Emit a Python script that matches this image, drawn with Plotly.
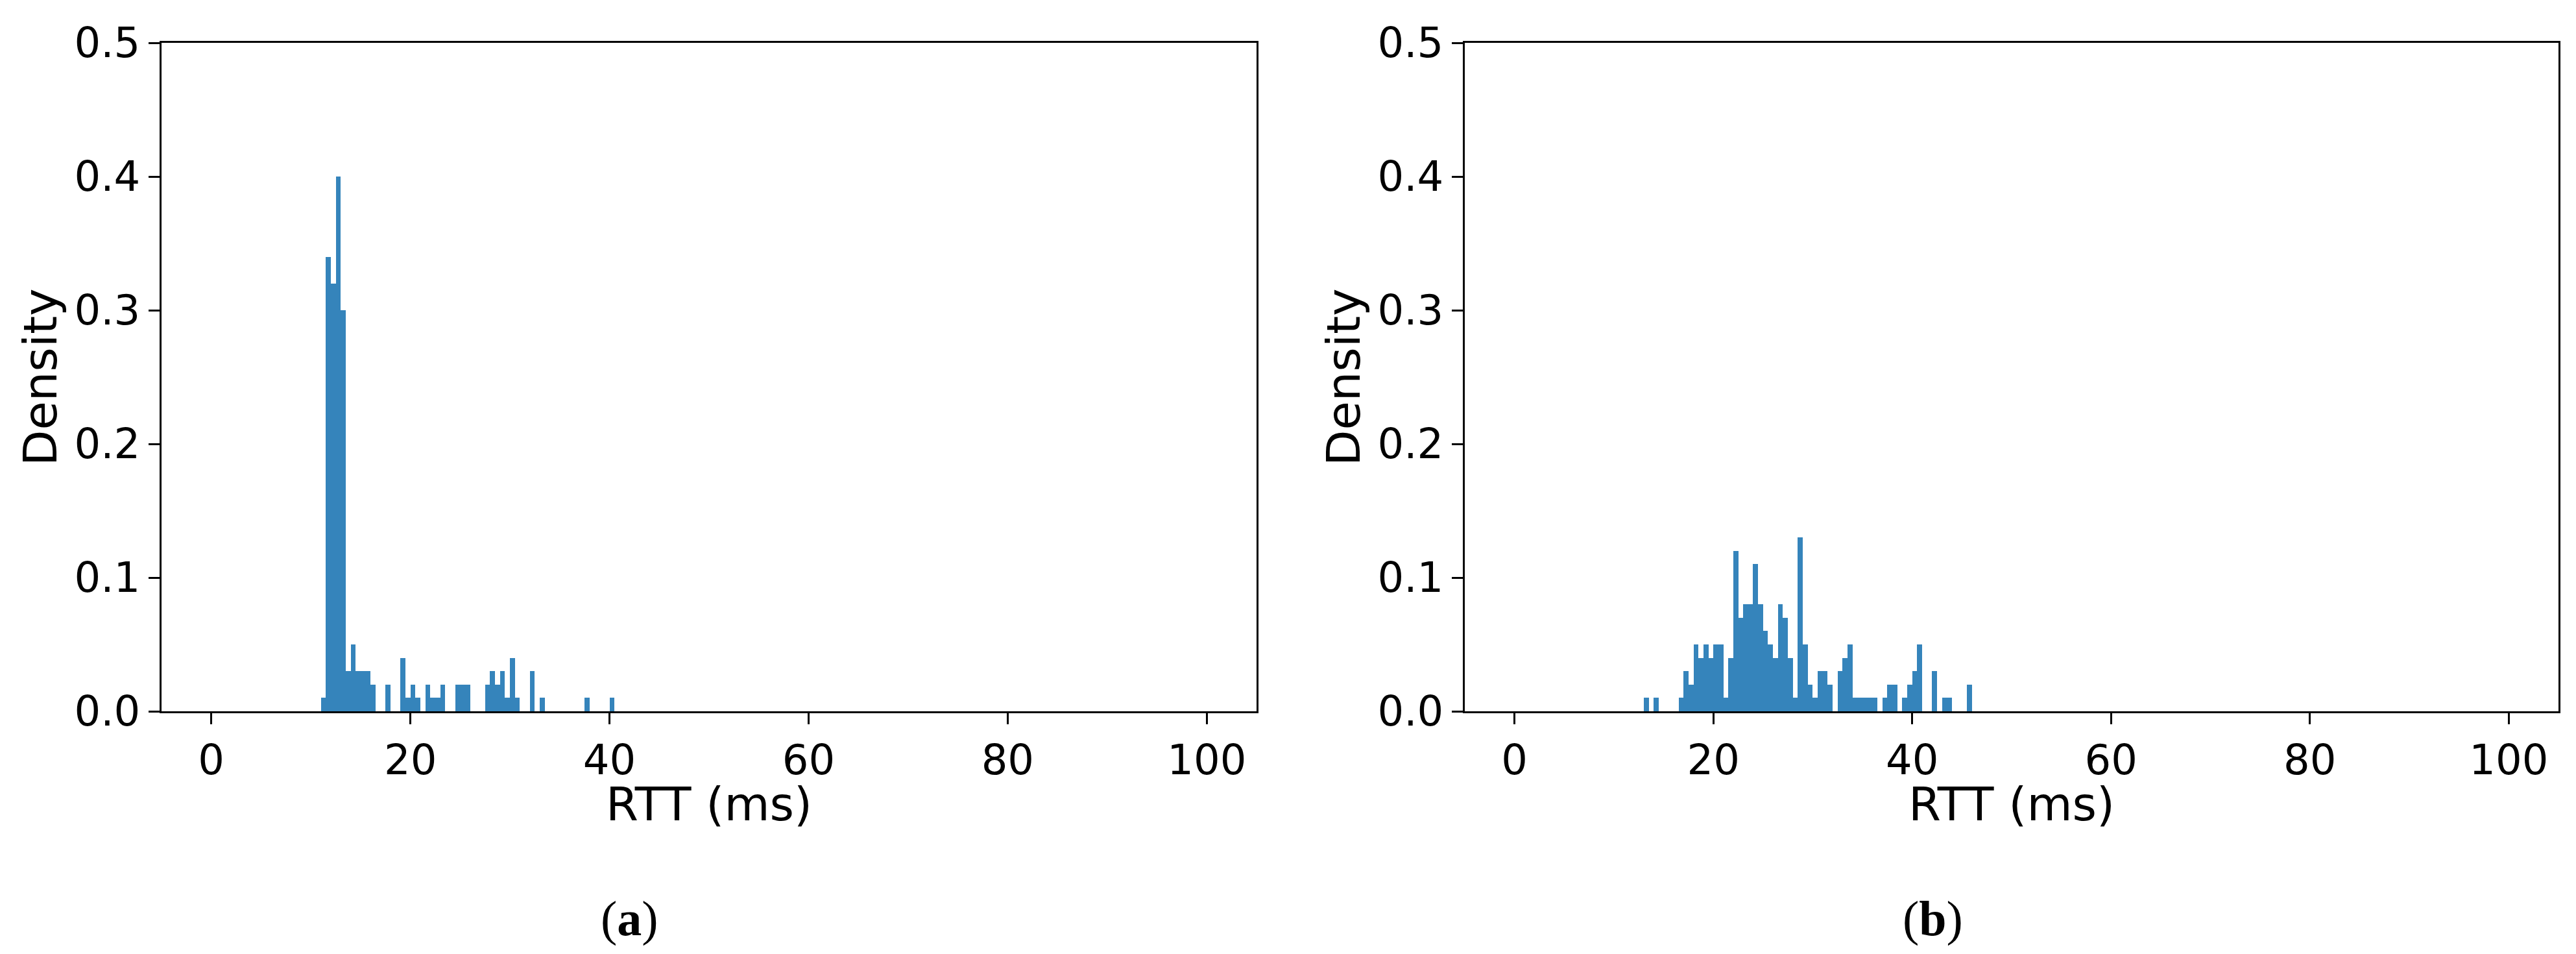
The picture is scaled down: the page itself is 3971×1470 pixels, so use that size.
# RTT density histograms, two panels (a) and (b)
import plotly.graph_objects as go

BIN_W = 0.5  # ms

# panel (a): left edge of each non-empty bin (ms) and its density
rtt_a_bins = [11.0, 11.5, 12.0, 12.5, 13.0, 13.5, 14.0, 14.5, 15.0, 15.5, 16.0,
              17.5, 19.0, 19.5, 20.0, 20.5, 21.5, 22.0, 22.5, 23.0,
              24.5, 25.0, 25.5, 27.5, 28.0, 28.5, 29.0, 29.5, 30.0, 30.5,
              32.0, 33.0, 37.5, 40.0]
rtt_a_density = [0.01, 0.34, 0.32, 0.40, 0.30, 0.03, 0.05, 0.03, 0.03, 0.03, 0.02,
                 0.02, 0.04, 0.01, 0.02, 0.01, 0.02, 0.01, 0.01, 0.02,
                 0.02, 0.02, 0.02, 0.02, 0.03, 0.02, 0.03, 0.01, 0.04, 0.01,
                 0.03, 0.01, 0.01, 0.01]

# panel (b)
rtt_b_bins = [13.0, 14.0, 16.5, 17.0, 17.5, 18.0, 18.5, 19.0, 19.5, 20.0, 20.5,
              21.0, 21.5, 22.0, 22.5, 23.0, 23.5, 24.0, 24.5, 25.0, 25.5, 26.0,
              26.5, 27.0, 27.5, 28.0, 28.5, 29.0, 29.5, 30.0, 30.5, 31.0, 31.5,
              32.5, 33.0, 33.5, 34.0, 34.5, 35.0, 35.5, 36.0,
              37.0, 37.5, 38.0, 39.0, 39.5, 40.0, 40.5, 42.0, 43.0, 43.5, 45.5]
rtt_b_density = [0.01, 0.01, 0.01, 0.03, 0.02, 0.05, 0.04, 0.05, 0.04, 0.05, 0.05,
                 0.01, 0.04, 0.12, 0.07, 0.08, 0.08, 0.11, 0.08, 0.06, 0.05, 0.04,
                 0.08, 0.07, 0.04, 0.01, 0.13, 0.05, 0.02, 0.01, 0.03, 0.03, 0.02,
                 0.03, 0.04, 0.05, 0.01, 0.01, 0.01, 0.01, 0.01,
                 0.01, 0.02, 0.02, 0.01, 0.02, 0.03, 0.05, 0.03, 0.01, 0.01, 0.02]

x_ticks = [0, 20, 40, 60, 80, 100]
y_ticks = [0.0, 0.1, 0.2, 0.3, 0.4, 0.5]
captions = ["a", "b"]

W, H = 3971, 1470
bar_color = "rgba(31,119,180,0.9)"
tick_font = dict(family="DejaVu Sans", size=64, color="black")
label_font = dict(family="DejaVu Sans", size=72, color="black")

fig = go.Figure()
panels = [(rtt_a_bins, rtt_a_density, "x", "y"), (rtt_b_bins, rtt_b_density, "x2", "y2")]
for bins, dens, xa, ya in panels:
    fig.add_trace(go.Bar(
        x=[b + BIN_W / 2 for b in bins], y=dens, width=BIN_W,
        marker=dict(color=bar_color, line=dict(width=0)),
        xaxis=xa, yaxis=ya, showlegend=False,
    ))

# plot areas in pixels (left, right) and (top, bottom)
x_doms = [(241, 1929), (2250, 3936)]
y_top, y_bot = 58, 1088

axis_common = dict(showline=True, linecolor="black", linewidth=3, mirror=True,
                   ticks="outside", ticklen=17, tickwidth=3, tickcolor="black",
                   showgrid=False, zeroline=False, tickfont=tick_font,
                   automargin=False)

layout = dict(width=W, height=H, autosize=False, template="none",
              margin=dict(l=0, r=0, t=0, b=0, pad=0),
              paper_bgcolor="white", plot_bgcolor="white",
              bargap=0, annotations=[])

for i, (x0, x1) in enumerate(x_doms):
    sfx = "" if i == 0 else str(i + 1)
    layout["xaxis" + sfx] = dict(axis_common, domain=[x0 / W, x1 / W], range=[-5, 105],
                                 tickvals=x_ticks, anchor="y" + sfx)
    layout["yaxis" + sfx] = dict(axis_common, domain=[1 - y_bot / H, 1 - y_top / H],
                                 range=[0, 0.5], tickvals=y_ticks, tickformat=".1f",
                                 anchor="x" + sfx)
    cx = (x0 + x1) / 2
    layout["annotations"] += [
        dict(text="RTT (ms)", x=cx / W, y=1 - 1231 / H, xref="paper", yref="paper",
             showarrow=False, font=label_font, xanchor="center", yanchor="middle"),
        dict(text="Density", x=(x0 - 187) / W, y=1 - (y_top + y_bot) / 2 / H,
             xref="paper", yref="paper", textangle=-90, showarrow=False,
             font=label_font, xanchor="center", yanchor="middle"),
        dict(text="(<b>%s</b>)" % captions[i], x=(x0 + 721) / W, y=1 - 1407 / H,
             xref="paper", yref="paper", showarrow=False,
             font=dict(family="Liberation Serif", size=76, color="black"),
             xanchor="center", yanchor="middle"),
    ]

fig.update_layout(**layout)
fig.write_html("out.html")
